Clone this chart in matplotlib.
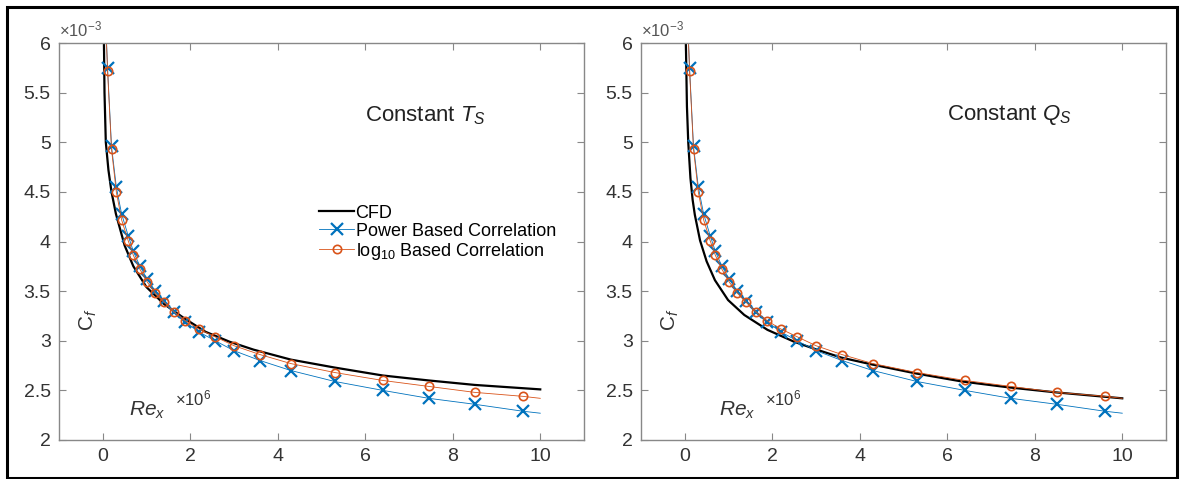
import numpy as np
import matplotlib
matplotlib.use("Agg")
import matplotlib.pyplot as plt
from matplotlib.patches import Rectangle

plt.rcParams['font.family'] = ['Liberation Sans', 'DejaVu Sans']
plt.rcParams['mathtext.fontset'] = 'custom'
plt.rcParams['mathtext.rm'] = 'Liberation Sans'
plt.rcParams['mathtext.it'] = 'Liberation Sans:italic'

# correlation data (Re_x x 1e6, Cf x 1e-3); first and last point carry no marker
re_corr = [0.06, 0.11, 0.20, 0.31, 0.43, 0.58, 0.70, 0.85, 1.02, 1.20, 1.40, 1.63,
           1.89, 2.19, 2.57, 3.0, 3.6, 4.3, 5.3, 6.4, 7.45, 8.5, 9.6, 10.0]
cf_power = [6.3, 5.75, 4.96, 4.55, 4.28, 4.06, 3.90, 3.75, 3.62, 3.50, 3.40, 3.29,
            3.19, 3.09, 3.00, 2.90, 2.80, 2.70, 2.59, 2.50, 2.42, 2.36, 2.29, 2.27]
cf_log = [6.3, 5.72, 4.93, 4.50, 4.22, 4.01, 3.86, 3.72, 3.59, 3.48, 3.39, 3.29,
          3.20, 3.12, 3.04, 2.95, 2.86, 2.77, 2.68, 2.60, 2.54, 2.48, 2.44, 2.42]

# CFD, constant wall temperature
re_cfd_t = [0.005, 0.02, 0.04, 0.07, 0.13, 0.20, 0.30, 0.40, 0.50, 0.70, 1.0, 1.4,
            1.85, 2.35, 2.9, 3.45, 4.3, 5.3, 6.4, 7.45, 8.5, 10.0]
cf_cfd_t = [7.5, 6.3, 5.5, 5.0, 4.72, 4.5, 4.28, 4.12, 3.96, 3.75, 3.54, 3.37,
            3.23, 3.09, 2.99, 2.91, 2.81, 2.73, 2.65, 2.60, 2.555, 2.51]

# CFD, constant heat flux
re_cfd_q = [0.005, 0.02, 0.05, 0.08, 0.13, 0.18, 0.23, 0.35, 0.50, 0.69, 0.99, 1.36,
            1.89, 2.5, 3.02, 3.58, 4.29, 5.29, 6.33, 7.41, 8.48, 10.0]
cf_cfd_q = [7.5, 6.15, 5.36, 5.0, 4.64, 4.42, 4.27, 4.01, 3.80, 3.61, 3.41, 3.26,
            3.11, 2.99, 2.91, 2.83, 2.76, 2.67, 2.59, 2.53, 2.48, 2.42]

panels = [("Constant $T_S$", re_cfd_t, cf_cfd_t, 0.61),
          ("Constant $Q_S$", re_cfd_q, cf_cfd_q, 0.79)]

fig = plt.figure(figsize=(11.8, 4.79), dpi=100)
fig.patches.append(Rectangle((7/1180, 1/479), 1170/1180, 471/479, transform=fig.transFigure,
                             fill=False, edgecolor='black', linewidth=2.2))

lefts = [59/1180, 641/1180]
blue = '#0072BD'
orange = '#D95319'
for i, (title, rx, cx, rex) in enumerate(panels):
    ax = fig.add_axes([lefts[i], 1 - 440/479, 525/1180, 397/479])
    ax.plot(rx, cx, color='black', lw=1.6, label='CFD')
    ax.plot(re_corr, cf_power, color=blue, lw=0.6, marker='x', ms=8, mew=1.6,
            markevery=slice(1, -1), label='Power Based Correlation')
    ax.plot(re_corr, cf_log, color=orange, lw=0.6, marker='o', ms=6, mew=1.2,
            mfc='none', markevery=slice(1, -1), label=r'log$_{\mathrm{10}}$ Based Correlation')
    ax.set_xlim(-1, 11)
    ax.set_ylim(2, 6)
    ax.set_xticks([0, 2, 4, 6, 8, 10])
    ax.set_yticks([2, 2.5, 3, 3.5, 4, 4.5, 5, 5.5, 6])
    ax.set_yticklabels(['2', '2.5', '3', '3.5', '4', '4.5', '5', '5.5', '6'])
    ax.tick_params(direction='in', top=True, right=True, length=5, width=0.8,
                   color='#888888', labelsize=14, labelcolor='#333333', pad=6)
    for s in ax.spines.values():
        s.set_color('#888888')
        s.set_linewidth(1.0)
    ax.text(6.0, 5.27, title, fontsize=16, color='#222222', va='center', ha='left')
    ax.text(-0.34, 3.21, r'C$_f$', fontsize=15, rotation=90, color='#333333',
            va='center', ha='center')
    ax.text(rex, 2.30, r'$Re_x$', fontsize=15, color='#333333', va='center', ha='left')
    ax.text(rex + 1.05, 2.42, r'$\times$10$^6$', fontsize=12, color='#333333',
            va='center', ha='left')
    ax.text(0.0, 1.01, r'$\times$10$^{-3}$', fontsize=12, color='#555555',
            transform=ax.transAxes, va='bottom', ha='left')
    if i == 0:
        ax.legend(loc='center left', bbox_to_anchor=(0.496, 0.521), frameon=False,
                  fontsize=13, handlelength=1.9, handletextpad=0.1, labelspacing=0.05,
                  borderpad=0, borderaxespad=0)

fig.savefig('out.png', dpi=100)
